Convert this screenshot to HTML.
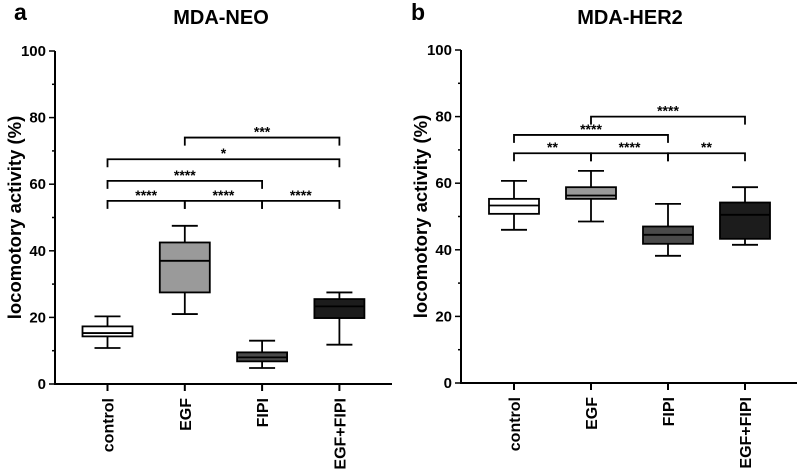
<!DOCTYPE html>
<html><head><meta charset="utf-8"><style>
body{margin:0;background:#fff}
svg{display:block;font-family:"Liberation Sans",Arial,sans-serif;font-weight:bold}
</style></head><body>
<svg id="c" width="797" height="469" viewBox="0 0 797 469"></svg>
<script>
const categories=["control","EGF","FIPI","EGF+FIPI"];
const yTicks=[0,20,40,60,80,100];
const neoMin=[10.8,21,4.8,11.8];
const neoQ1=[14.3,27.5,6.8,19.8];
const neoMed=[15.3,37,8,23.3];
const neoQ3=[17.3,42.5,9.5,25.5];
const neoMax=[20.3,47.5,13,27.5];
const herMin=[46,48.5,38.2,41.5];
const herQ1=[50.8,55.3,41.8,43.3];
const herMed=[53.3,56.3,44.5,50.5];
const herQ3=[55.3,58.8,47,54.2];
const herMax=[60.7,63.7,53.8,58.8];
const fills=["#ffffff","#9a9a9a","#4a4a4a","#1c1c1c"];
const neoBrFrom=[0,1,2,0,0,1], neoBrTo=[1,2,3,2,3,3], neoBrLevel=[55,55,55,61,67.5,74], neoBrLabel=["****","****","****","****","*","***"];
const herBrFrom=[0,1,2,0,1], herBrTo=[1,2,3,2,3], herBrLevel=[69,69,69,74.5,80], herBrLabel=["**","****","**","****","****"];

const svg=document.getElementById('c');
const NS="http://www.w3.org/2000/svg";
function mk(t,a,p){const e=document.createElementNS(NS,t);for(const k in a)e.setAttribute(k,a[k]);(p||svg).appendChild(e);return e;}

function panel(o){
  const g=mk('g',{});
  
  
  const y=v=>o.y0-(o.y0-o.y100)*v/100;
  const x=i=>o.x0+o.step*i;
  let t=mk('text',{x:o.lx,y:20,'font-size':23},g);t.textContent=o.letter;
  
  t=mk('text',{x:o.tx,y:24,'font-size':20,'text-anchor':'middle'},g);t.textContent=o.title;
  
  t=mk('text',{x:0,y:0,'font-size':18.5,'text-anchor':'middle',transform:`translate(${o.ax-34},${y(50)}) rotate(-90)`},g);t.textContent="locomotory activity (%)";
  
  let l=mk('line',{x1:o.ax,y1:y(100),x2:o.ax,y2:y(0),stroke:'#000','stroke-width':2},g);
  
  l=mk('line',{x1:o.ax-1,y1:y(0),x2:o.xend,y2:y(0),stroke:'#000','stroke-width':2},g);
  
  for(let v=0;v<=100;v+=10){
    mk('line',{x1:o.ax-(v%20?3:6),y1:y(v),x2:o.ax,y2:y(v),stroke:'#000','stroke-width':1.5},g);
  }
  yTicks.forEach(v=>{
    const tt=mk('text',{x:o.ax-9,y:y(v)+5,'font-size':15,'text-anchor':'end'},g);tt.textContent=v;
    
  });
  categories.forEach((c,i)=>{
    mk('line',{x1:x(i),y1:y(0),x2:x(i),y2:y(0)+7,stroke:'#000','stroke-width':2},g);
    const tt=mk('text',{x:0,y:0,'font-size':16,'text-anchor':'end',transform:`translate(${x(i)+6},${y(0)+14}) rotate(-90)`},g);tt.textContent=c;
    
    const bg=mk('g',{},g);
    
    
    const hw=25,cw=13,s={stroke:'#000','stroke-width':1.8};
    mk('line',Object.assign({x1:x(i),y1:y(o.mx[i]),x2:x(i),y2:y(o.q3[i])},s),bg);
    mk('line',Object.assign({x1:x(i),y1:y(o.mn[i]),x2:x(i),y2:y(o.q1[i])},s),bg);
    mk('line',Object.assign({x1:x(i)-cw,y1:y(o.mx[i]),x2:x(i)+cw,y2:y(o.mx[i])},s),bg);
    mk('line',Object.assign({x1:x(i)-cw,y1:y(o.mn[i]),x2:x(i)+cw,y2:y(o.mn[i])},s),bg);
    mk('rect',Object.assign({x:x(i)-hw,y:y(o.q3[i]),width:2*hw,height:y(o.q1[i])-y(o.q3[i]),fill:fills[i]},s),bg);
    mk('line',Object.assign({x1:x(i)-hw,y1:y(o.md[i]),x2:x(i)+hw,y2:y(o.md[i])},s),bg);
  });
  o.bf.forEach((f,k)=>{
    const yy=y(o.bl[k]),bgp=mk('g',{},g);
    
    
    mk('path',{d:`M${x(f)},${yy+8}V${yy}H${x(o.bt[k])}V${yy+8}`,fill:'none',stroke:'#000','stroke-width':1.8},bgp);
    const tt=mk('text',{x:(x(f)+x(o.bt[k]))/2,y:yy-1,'font-size':14,'text-anchor':'middle'},bgp);tt.textContent=o.blab[k];
  });
}
panel({name:'panel-a-mda-neo',letter:'a',lx:14,title:'MDA-NEO',tx:221,ax:55,y0:384,y100:51,x0:107.5,step:77.3,xend:392,
  mn:neoMin,q1:neoQ1,md:neoMed,q3:neoQ3,mx:neoMax,bf:neoBrFrom,bt:neoBrTo,bl:neoBrLevel,blab:neoBrLabel});
panel({name:'panel-b-mda-her2',letter:'b',lx:411,title:'MDA-HER2',tx:630,ax:461,y0:383,y100:50,x0:514,step:77,xend:797,
  mn:herMin,q1:herQ1,md:herMed,q3:herQ3,mx:herMax,bf:herBrFrom,bt:herBrTo,bl:herBrLevel,blab:herBrLabel});
</script>
</body></html>
